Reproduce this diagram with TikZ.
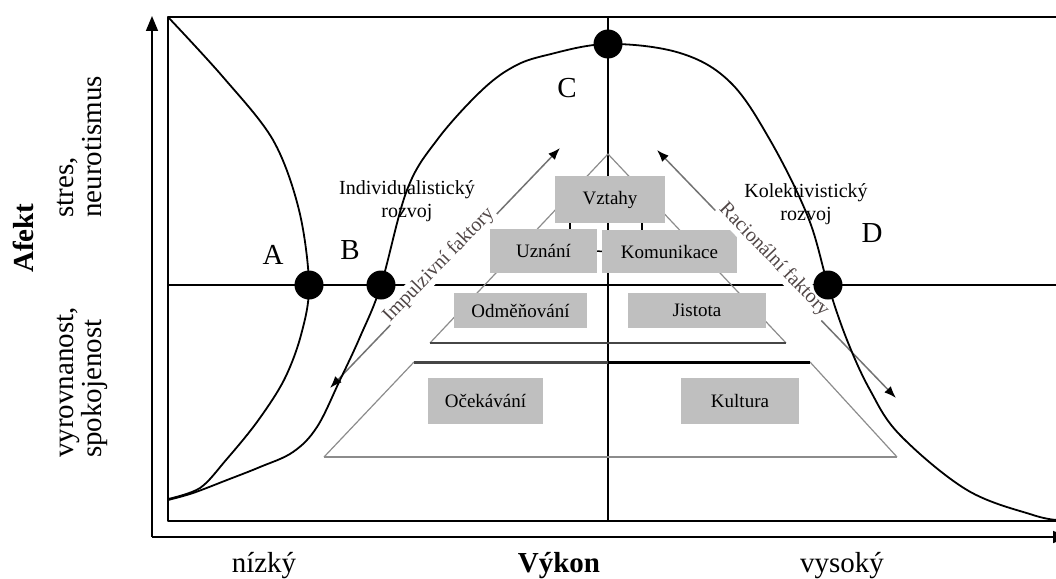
\documentclass[tikz,border=0pt]{standalone}
\usepackage{fontspec}
\setmainfont{Liberation Serif}
\usetikzlibrary{arrows.meta, calc}
\definecolor{boxgray}{RGB}{191, 191, 191}
\definecolor{pyrgray}{RGB}{140, 140, 140}
\definecolor{basegray}{RGB}{70, 70, 70}
\definecolor{labelgray}{RGB}{80, 70, 70}
\newcommand{\bigfont}{\fontsize{29}{28}\selectfont}
\newcommand{\midfont}{\fontsize{20}{23}\selectfont}
\newcommand{\boxfont}{\fontsize{19}{21}\selectfont}

\begin{document}
\begin{tikzpicture}[x=1pt, y=-1pt, line join=round,
    every node/.style={inner sep=0pt},
    dot/.style={circle, fill=black, minimum size=29pt},
    factor/.style={fill=boxgray, font=\boxfont},
    curve/.style={line width=1.8pt},
    frame/.style={line width=2pt},
    pyr/.style={pyrgray, line width=1.2pt},
    factorarrow/.style={{Latex[length=12pt,width=9pt,black]}-{Latex[length=12pt,width=9pt,black]}, black!55, line width=1.5pt},
    tag/.style={font=\midfont, fill=white, inner sep=1.5pt, text=labelgray}]
    \useasboundingbox (0,0) rectangle (1056,578);

    % Axes
    \draw[line width=1.6pt, -{Triangle[length=15pt,width=12pt]}] (152,537) -- (152,16);
    \draw[line width=1.6pt, -{Triangle[length=15pt,width=12pt]}] (152,537) -- (1068,537);

    % Frame and quadrants
    \draw[frame] (1056,17) -- (168,17) -- (168,521) -- (1056,521);
    \draw[frame] (608,17) -- (608,521);
    \draw[frame] (168,285) -- (1056,285);

    % Pyramid outline
    \draw[pyr] (430,343) -- (608,154) -- (786,343);
    \draw[basegray, line width=2.5pt] (430,343) -- (786,343);
    \draw[pyr] (414,362) -- (324,457);
    \draw[pyr] (810,362) -- (897,457);
    \draw[pyrgray, line width=2.5pt] (324,457) -- (897,457);
    \draw[basegray, line width=3pt] (414,362) -- (608,362);
    \draw[black, line width=3pt] (608,362) -- (810,362);

    % Factor arrows
    \coordinate (impLo) at (330,388);
    \coordinate (impHi) at (560,148);
    \coordinate (racHi) at (657,150);
    \coordinate (racLo) at (896,398);
    \draw[factorarrow] (impLo) -- (impHi);
    \draw[factorarrow] (racHi) -- (racLo);

    % Factor boxes
    \node[factor, minimum width=110pt, minimum height=47pt] (vztahy) at (610,199.5) {Vztahy};
    \node[factor, minimum width=107pt, minimum height=44pt] (uznani) at (543.5,251) {Uznání};
    \node[factor, minimum width=135pt, minimum height=43pt] (komun) at (669.5,251.5) {Komunikace};
    \node[factor, minimum width=133pt, minimum height=35pt] (odmena) at (520.5,310.5) {Odměňování};
    \node[factor, minimum width=138pt, minimum height=35pt] (jistota) at (697,310.5) {Jistota};
    \node[factor, minimum width=115pt, minimum height=46pt] (ocek) at (485.5,401) {Očekávání};
    \node[factor, minimum width=118pt, minimum height=46pt] (kultura) at (740,401) {Kultura};

    % Box links
    \draw[line width=1.5pt] (vztahy.south -| 570,0) -- (uznani.north -| 570,0);
    \draw[line width=1.5pt] (vztahy.south -| 642,0) -- (komun.north -| 642,0);
    \draw[line width=1.5pt] (uznani.east) -- (komun.west);

    % Factor labels
    \node[tag, rotate=46] (impuls) at (439,265) {Impulzivní faktory};
    \node[tag, rotate=-46] (racio) at (774,260) {Racionální faktory};

    % Development labels
    \node[font=\midfont, align=center] (indiv) at (407,201) {Individualistický\\rozvoj};
    \node[font=\midfont, align=center] (kolekt) at (806,204) {Kolektivistický\\rozvoj};

    % Curves
    \draw[curve] plot[smooth, tension=0.55] coordinates {(168,17) (223,77) (273,140) (299,210)
        (309,285) (301,335) (284,380) (257,422) (226,460) (200,488) (168,499)};
    \draw[curve] plot[smooth, tension=0.6] coordinates {(168,500) (193,493) (227,480) (260,467)
        (293,452) (317,427) (340,380) (360,337) (381,285) (407,190) (437,140) (480,92) (513,67)
        (547,55) (608,44) (680,53) (730,82) (770,140) (808,217) (828,285) (847,340) (870,390)
        (900,435) (967,490) (1033,515) (1058,520)};

    % Points
    \node[dot] (ptA) at (309,285) {};
    \node[dot] (ptB) at (381,285) {};
    \node[dot] (ptC) at (608,44) {};
    \node[dot] (ptD) at (828,285) {};
    \node[font=\bigfont] (lblA) at (273,255) {A};
    \node[font=\bigfont] (lblB) at (350,250) {B};
    \node[font=\bigfont] (lblC) at (567,88) {C};
    \node[font=\bigfont] (lblD) at (872,233) {D};

    % Axis labels
    \node[font=\bigfont\bfseries, rotate=90] (afekt) at (23,238) {Afekt};
    \node[font=\bigfont, rotate=90, align=left, anchor=base west] (stres) at (101,218) {stres,\\neurotismus};
    \node[font=\bigfont, rotate=90, align=left, anchor=base west] (klid) at (101,458) {vyrovnanost,\\spokojenost};
    \node[font=\bigfont, anchor=base] (nizky) at (264,572) {nízký};
    \node[font=\bigfont\bfseries, anchor=base] (vykon) at (559,572) {Výkon};
    \node[font=\bigfont, anchor=base] (vysoky) at (842,572) {vysoký};
\end{tikzpicture}
\end{document}
